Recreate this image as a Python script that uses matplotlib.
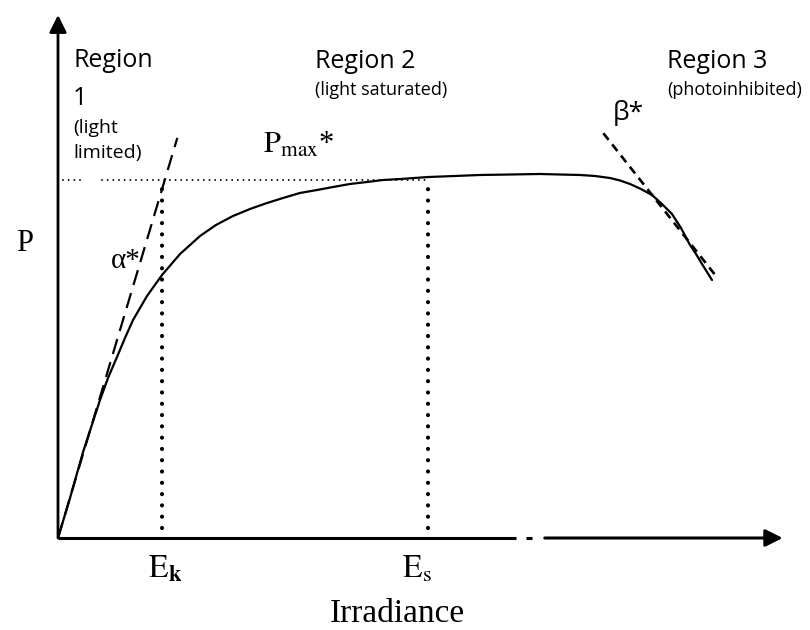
import matplotlib
matplotlib.use("Agg")
import matplotlib.pyplot as plt

plt.rcParams['mathtext.fontset'] = 'stix'

# P-I curve (irradiance, production), arbitrary units
irradiance = [0, 1.64, 3.42, 5.74, 6.83, 8.06, 9.15, 10.25, 12.16, 14.21, 16.67,
              19.40, 21.58, 23.91, 26.23, 28.55, 30.74, 33.06, 35.38, 37.57,
              39.89, 42.21, 44.40, 46.72, 50.55, 54.23, 57.65, 61.75, 65.85,
              68.58, 71.31, 73.36, 75.41, 76.78, 78.14, 79.64, 81.15, 82.51,
              83.88, 85.11, 86.34, 87.16, 87.98, 88.66, 89.34]
production = [0, 7.65, 16.44, 26.39, 30.59, 34.61, 38.24, 41.68, 46.27, 50.29,
              54.30, 57.74, 59.85, 61.57, 62.91, 64.05, 65.01, 65.97, 66.54,
              67.11, 67.69, 68.07, 68.45, 68.64, 69.02, 69.22, 69.41, 69.50,
              69.60, 69.50, 69.41, 69.22, 68.83, 68.36, 67.69, 66.73, 65.58,
              63.86, 61.95, 59.27, 56.02, 54.30, 52.39, 50.86, 49.33]

p_max = 68.5
e_k = 14.2
e_s = 50.6

# tangent lines (initial slope alpha*, photoinhibition slope beta*)
alpha_x = [0, 16.3]
alpha_y = [0, 76.5]
beta_x = [74.5, 90.0]
beta_y = [77.4, 49.9]

sans = 'Open Sans'
serif = 'Liberation Serif'

fig = plt.figure(figsize=(8.1, 6.3), dpi=100)
ax = fig.add_axes([58 / 810, 92 / 630, 732 / 810, 523 / 630])
ax.set_xlim(0, 100)
ax.set_ylim(0, 100)
ax.axis('off')

# axes with arrows
ax.annotate('', xy=(0, 100), xytext=(0, 0),
            arrowprops=dict(arrowstyle='-|>', lw=2, color='k',
                            mutation_scale=26, shrinkA=0, shrinkB=0),
            annotation_clip=False)
ax.plot([0, 62.6], [0, 0], color='k', lw=2.2, solid_capstyle='butt', clip_on=False)
ax.plot([64.0, 64.8], [0, 0], color='k', lw=2.2, solid_capstyle='butt', clip_on=False)
ax.annotate('', xy=(99, 0), xytext=(66.5, 0),
            arrowprops=dict(arrowstyle='-|>', lw=2.2, color='k',
                            mutation_scale=26, shrinkA=0, shrinkB=0),
            annotation_clip=False)

# P max level and saturation markers
ax.plot([0.7, 3.0], [p_max, p_max], color='k', lw=1.4,
        ls=(0, (0.01, 2.9)), dash_capstyle='round')
ax.plot([6.0, e_s], [p_max, p_max], color='k', lw=1.4,
        ls=(0, (0.01, 2.9)), dash_capstyle='round')
for e in [e_k, e_s]:
    ax.plot([e, e], [1.9, p_max - 0.5], color='k', lw=3.0,
            ls=(0, (0.01, 2.7)), dash_capstyle='round')

# tangents
ax.plot(alpha_x, alpha_y, color='k', lw=1.6, ls=(0, (7, 3.8)))
ax.plot(beta_x, beta_y, color='k', lw=1.9, ls=(0, (3.2, 2.2)))

# curve
ax.plot(irradiance, production, color='k', lw=1.6,
        solid_capstyle='round', solid_joinstyle='round')

# labels
ax.text(-4.5, 56.4, 'P', family=serif, fontsize=22, ha='center', va='center')
ax.text(9.2, 53.0, 'α*', family=serif, fontsize=21, ha='center', va='center')
ax.text(28.0, 73.6, r'$\mathrm{P_{max}}$', fontsize=22, ha='left', va='baseline')
ax.text(35.6, 73.9, '*', family=serif, fontsize=22, ha='left', va='baseline')
ax.text(75.8, 79.9, 'β*', family=sans, fontsize=19, ha='left', va='baseline')

ax.text(12.3, -7.6, r'$\mathrm{E}_{\mathbf{k}}$', fontsize=23, ha='left', va='baseline')
ax.text(47.0, -7.6, r'$\mathrm{E}_{\mathrm{s}}$', fontsize=23, ha='left', va='baseline')
ax.text(46.4, -16.0, 'Irradiance', family=serif, fontsize=24, ha='center', va='baseline')

ax.text(2.05, 90.1, 'Region', family=sans, fontsize=18, ha='left', va='baseline')
ax.text(2.05, 82.8, '1', family=sans, fontsize=18, ha='left', va='baseline')
ax.text(2.05, 77.4, '(light', family=sans, fontsize=14, ha='left', va='baseline')
ax.text(2.05, 72.6, 'limited)', family=sans, fontsize=14, ha='left', va='baseline')

ax.text(35.1, 89.9, 'Region 2', family=sans, fontsize=18, ha='left', va='baseline')
ax.text(35.1, 84.7, '(light saturated)', family=sans, fontsize=13, ha='left', va='baseline')
ax.text(83.2, 89.9, 'Region 3', family=sans, fontsize=18, ha='left', va='baseline')
ax.text(83.2, 84.7, '(photoinhibited)', family=sans, fontsize=13, ha='left', va='baseline')

fig.savefig('out.png', dpi=100)
